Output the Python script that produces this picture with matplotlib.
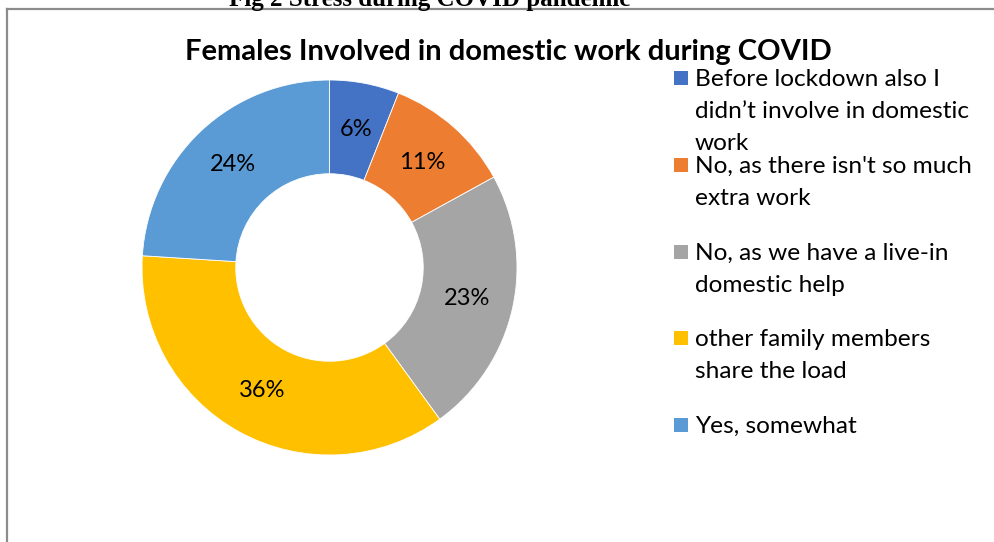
import matplotlib
matplotlib.use("Agg")
import matplotlib.pyplot as plt
from matplotlib.lines import Line2D
from matplotlib.patches import Rectangle

# survey answers and their share of responses (%)
categories = [
    "Before lockdown also I\ndidn\u2019t involve in domestic\nwork",
    "No, as there isn't so much\nextra work",
    "No, as we have a live-in\ndomestic help",
    "other family members\nshare the load",
    "Yes, somewhat",
]
shares = [6, 11, 23, 36, 24]
colors = ["#4472C4", "#ED7D31", "#A5A5A5", "#FFC000", "#5B9BD5"]

title = "Females Involved in domestic work during COVID"
caption = "Fig 2 Stress during COVID pandemic"

W, H = 995, 542
fig = plt.figure(figsize=(W / 100, H / 100), dpi=100)
fig.patch.set_facecolor("white")


def fx(px):
    return px / W


def fy(py):
    return 1 - py / H


# donut, centre and radius in pixels
cx, cy, r = 329.5, 267.5, 187.5
ax = fig.add_axes([fx(cx - r), fy(cy + r), 2 * r / W, 2 * r / H])
wedges, _, autotexts = ax.pie(
    shares, colors=colors, startangle=90, counterclock=False, radius=1,
    autopct=lambda p: f"{p:.0f}%", pctdistance=0.75,
    wedgeprops=dict(width=0.5, edgecolor="white", linewidth=0.6),
    textprops=dict(fontsize=17, family="Lato", color="black"))
ax.set_xlim(-1, 1)
ax.set_ylim(-1, 1)
ax.axis("off")

# chart area border (only top and left edges are visible)
fig.add_artist(Line2D([fx(7), fx(W + 5)], [fy(9), fy(9)], color="#8c8c8c", lw=1.6))
fig.add_artist(Line2D([fx(7), fx(7)], [fy(9), fy(H + 5)], color="#8c8c8c", lw=1.6))

fig.text(fx(430), fy(6), caption, ha="center", va="baseline",
         family="Liberation Serif", fontweight="bold", fontsize=18)
fig.text(fx(508), fy(60), title, ha="center", va="baseline",
         family="Lato", fontweight="bold", fontsize=21)

# legend drawn as a fixed-pitch column, one text per wrapped line
for i, (lab, col) in enumerate(zip(categories, colors)):
    yc = 78 + i * 86.8
    fig.add_artist(Rectangle((fx(674), fy(yc + 7)), 14 / W, 14 / H,
                             facecolor=col, edgecolor="none", transform=fig.transFigure))
    for j, line in enumerate(lab.split("\n")):
        fig.text(fx(695), fy(yc + 8 + 32 * j), line, ha="left", va="baseline",
                 family="Lato", fontsize=17.6)

fig.savefig("out.png", dpi=100)
